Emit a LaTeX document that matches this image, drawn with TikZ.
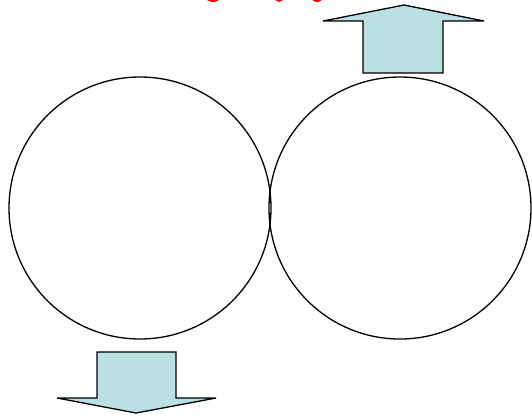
\documentclass[tikz,border=0pt]{standalone}
\definecolor{arrowfill}{RGB}{186,224,228}
\tikzset{
  ring/.style={circle, draw=black, line width=1.3pt, minimum size=262pt, inner sep=0pt},
  bigarrow/.style={draw=black, fill=arrowfill, line width=1.3pt, line join=miter},
  redmark/.style={fill=red}
}
\begin{document}
\begin{tikzpicture}[x=1pt,y=-1pt]
\useasboundingbox (0,0) rectangle (532,416);
\begin{scope}
\clip (0,0) rectangle (532,416);
\fill[redmark] (213,-4) ellipse (8 and 6);
\fill[redmark] (279,-4) ellipse (5 and 6);
\fill[redmark] (317,-4) ellipse (6 and 6);
\end{scope}
\node[ring] (c1) at (140,208) {};
\node[ring] (c2) at (400,208) {};
\draw[bigarrow] (363,73) -- (363,21) -- (323,21) -- (404,5) -- (484,21) -- (443,21) -- (443,73) -- cycle;
\draw[bigarrow] (97,352) -- (176,352) -- (176,398) -- (216,398) -- (136,413) -- (57,398) -- (97,398) -- cycle;
\end{tikzpicture}
\end{document}
